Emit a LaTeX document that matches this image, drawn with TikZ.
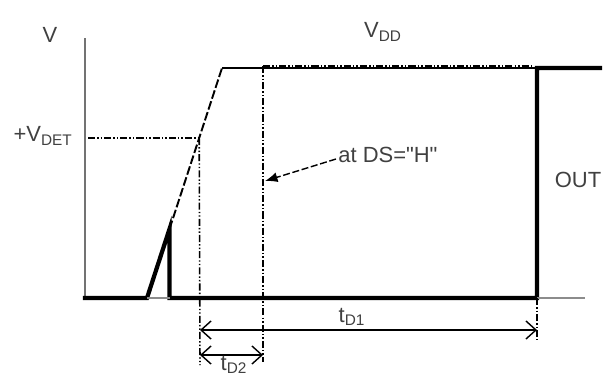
\documentclass[tikz,border=0pt]{standalone}
\usepackage{fontspec}
\setmainfont{Liberation Sans}
\usetikzlibrary{arrows.meta}
\tikzset{
    lbl/.style={text=black!75, inner sep=0pt, font=\fontsize{12.5}{14}\selectfont},
    outline/.style={line width=2.4pt, line join=miter, line cap=rect},
    guide/.style={line width=0.9pt, dash pattern=on 4pt off 1.2pt on 0.8pt off 1.2pt on 0.8pt off 1.2pt},
    span/.style={line width=0.8pt, {Straight Barb[length=2mm,width=3.6mm]}-{Straight Barb[length=2mm,width=3.6mm]}}
}
\begin{document}
\begin{tikzpicture}[x=0.02cm, y=-0.02cm]
    \useasboundingbox (0,0) rectangle (607,376);

    % Key points
    \coordinate (axtop) at (85,38);
    \coordinate (orig) at (85,298);
    \coordinate (rampA) at (147,298);
    \coordinate (kink) at (169.5,229);
    \coordinate (kinkB) at (169.5,298);
    \coordinate (rampB) at (222,68);
    \coordinate (det) at (199.2,138);
    \coordinate (ds) at (263,66);
    \coordinate (fallT) at (537,68);
    \coordinate (fallB) at (537,298);
    \coordinate (endT) at (600,68);

    % Axis
    \draw[black!55, line width=1pt] (axtop) -- (orig);

    % Input ramp (VDD)
    \draw[line width=1.1pt, dash pattern=on 5pt off 1.5pt] (kink) -- (rampB);
    \draw[line width=1.2pt] (rampB) -- (fallT);
    \draw[guide, line width=1.3pt] (ds) -- (533,66);

    % Output
    \draw[outline] (orig) -- (rampA) -- (kink) -- (kinkB) -- (fallB) -- (fallT) -- (endT);
    \draw[black!45, line width=0.6pt] (rampA) -- (kinkB);
    \draw[black!45, line width=0.6pt] (fallB) -- (585,298);

    % Guides
    \draw[guide] (88,138) -- (det);
    \draw[guide] (det) -- (200,365);
    \draw[guide] (ds) -- (263,362);
    \draw[guide] (fallB) -- (537,340);

    % Delay spans
    \coordinate (d1a) at (200,330);
    \coordinate (d1b) at (537,330);
    \coordinate (d2a) at (200,355);
    \coordinate (d2b) at (263,355);
    \draw[span] (d1a) -- (d1b);
    \draw[span] (d2a) -- (d2b);

    % Labels
    \node[lbl] (vlab) at (50,35) {V};
    \node[lbl] (vdd) at (383,32) {V\textsubscript{DD}};
    \node[lbl, anchor=east] (vdet) at (73,136) {+V\textsubscript{DET}};
    \node[lbl, anchor=west] (dslab) at (338,155) {at DS=\textquotedbl H\textquotedbl};
    \node[lbl] (outlab) at (578,180) {OUT};
    \node[lbl] (td1) at (352,317) {t\textsubscript{D1}};
    \node[lbl] (td2) at (234,365) {t\textsubscript{D2}};

    % Pointer
    \coordinate (dstip) at (265,181);
    \draw[line width=0.8pt, dash pattern=on 4pt off 1.5pt, -{Latex[length=2.5mm,width=2mm]}] (dslab.west) ++(-2,4) -- (dstip);
\end{tikzpicture}
\end{document}
